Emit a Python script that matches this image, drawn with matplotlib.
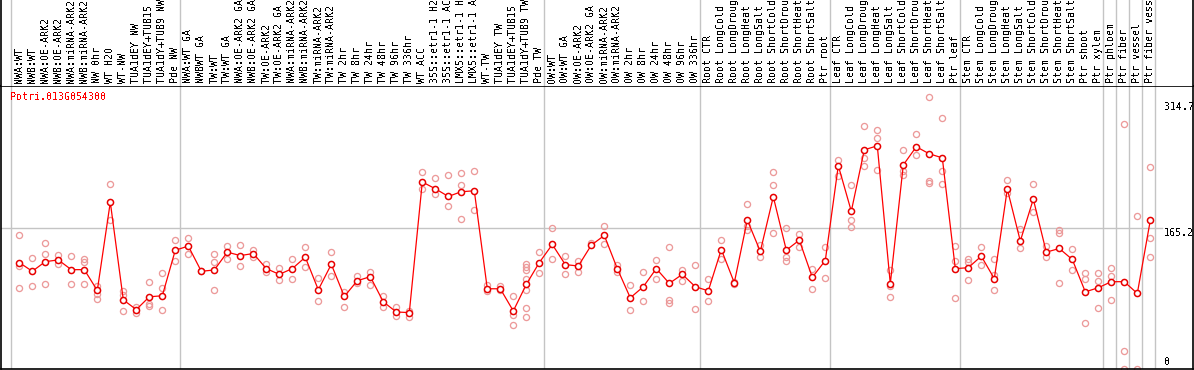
import matplotlib
matplotlib.use("Agg")
import matplotlib.pyplot as plt

plt.rcParams["text.antialiased"] = False

labels = [
    "NWA:WT", "NWB:WT", "NWA:OE-ARK2", "NWB:OE-ARK2", "NWA:miRNA-ARK2", "NWB:miRNA-ARK2",
    "NW 0hr", "WT H2O", "WT-NW", "TUA1dEY NW", "TUA1dEY+TUB15 NW", "TUA1dY+TUB9 NW", "Pde NW",
    "NWA:WT GA", "NWBWT GA", "TW:WT", "TW:WT GA", "NWA:OE-ARK2 GA", "NWB:OE-ARK2 GA",
    "TW:OE-ARK2", "TW:OE-ARK2 GA", "NWA:miRNA-ARK2 GA", "NWB:miRNA-ARK2 GA", "TW:miRNA-ARK2",
    "TW:miRNA-ARK2 GA", "TW 2hr", "TW 8hr", "TW 24hr", "TW 48hr", "TW 96hr", "TW 336hr",
    "WT ACC", "35S::etr1-1 H2O", "35S::etr1-1 ACC", "LMX5::etr1-1 H2O", "LMX5::etr1-1 ACC",
    "WT-TW", "TUA1dEY TW", "TUA1dEY+TUB15 TW", "TUA1dY+TUB9 TW", "Pde TW",
    "OW:WT", "OW:WT GA", "OW:OE-ARK2", "OW:OE-ARK2 GA", "OW:miRNA-ARK2", "OW:miRNA-ARK2 GA",
    "OW 2hr", "OW 8hr", "OW 24hr", "OW 48hr", "OW 96hr", "OW 336hr",
    "Root CTR", "Root LongCold", "Root LongDrought", "Root LongHeat", "Root LongSalt",
    "Root ShortCold", "Root ShortDrought", "Root ShortHeat", "Root ShortSalt", "Ptr root",
    "Leaf CTR", "Leaf LongCold", "Leaf LongDrought", "Leaf LongHeat", "Leaf LongSalt",
    "Leaf ShortCold", "Leaf ShortDrought", "Leaf ShortHeat", "Leaf ShortSalt", "Ptr leaf",
    "Stem CTR", "Stem LongCold", "Stem LongDrought", "Stem LongHeat", "Stem LongSalt",
    "Stem ShortCold", "Stem ShortDrought", "Stem ShortHeat", "Stem ShortSalt",
    "Ptr shoot", "Ptr xylem", "Ptr phloem", "Ptr fiber", "Ptr vessel", "Ptr fiber vessel",
]

means = [
    124.7, 114.5, 125.8, 127.8, 116.4, 116.4, 92.0, 195.5, 81.0, 69.6,
    84.6, 85.8, 139.2, 144.0, 114.5, 116.0, 136.9, 132.9, 135.3, 117.6,
    110.9, 117.6, 131.0, 92.8, 122.7, 85.0, 103.4, 108.2, 78.7, 66.8,
    66.1, 219.1, 211.2, 202.2, 207.7, 208.8, 94.0, 94.0, 68.0, 99.1,
    124.7, 145.9, 122.3, 120.7, 145.1, 156.5, 117.6, 83.4, 96.4, 117.6,
    100.3, 110.9, 96.4, 91.6, 140.0, 101.1, 174.6, 137.7, 201.8, 139.2,
    151.0, 107.4, 127.1, 238.3, 184.8, 256.8, 261.5, 99.9, 239.1, 260.4,
    252.1, 247.4, 117.6, 118.7, 132.2, 105.8, 210.8, 149.9, 199.0, 136.9,
    141.2, 128.3, 90.4, 95.2, 102.3, 102.3, 88.5, 174.2,
]

replicates = [
    [156.9, 120.7, 95.2], [129.8, 97.5], [147.5, 134.5, 99.1], [133.7, 123.5],
    [132.1, 99.9], [128.3, 125.1, 99.1], [96.8, 88.1, 82.2], [216.7, 174.2],
    [90.9, 86.9, 68.4], [72.4, 65.3], [101.5, 76.3, 73.6], [112.1, 94.4, 69.2],
    [151.4, 127.1], [153.8, 134.5], [114.5], [134.5, 125.8, 92.0],
    [144.0, 129.4], [145.1, 120.4], [139.2, 131.4], [123.1, 113.7],
    [118.0, 104.6], [128.6, 105.8], [142.8, 119.2], [107.0, 79.1],
    [136.5, 108.6], [90.4, 72.8], [109.0, 100.7], [113.7, 98.7],
    [85.4, 72.4], [72.4, 62.2], [68.4, 61.4], [231.3, 211.2],
    [223.8, 204.9], [227.3, 190.4], [229.7, 215.9, 175.4], [232.4, 186.1],
    [97.9, 91.3], [96.8, 92.0], [85.8, 63.7, 51.5],
    [123.5, 119.6, 115.6, 105.8, 92.0, 71.6, 61.0],
    [136.5, 112.9], [164.8, 129.4], [132.9, 111.7], [126.3, 114.1],
    [147.9], [167.6, 145.9], [122.3, 113.7], [97.9, 69.2],
    [113.3, 79.8], [127.4, 105.8], [142.4, 81.4, 77.5], [115.6, 103.4],
    [122.3, 70.4], [105.8, 79.8], [150.6, 128.3], [101.5, 99.5],
    [193.1, 162.8, 168.0], [145.1, 131.8], [230.9, 215.5, 158.9], [164.8, 131.8, 126.1],
    [158.1, 142.4], [117.6, 94.0], [143.2, 107.0], [245.4, 226.5],
    [215.5, 174.2, 166.0], [284.4, 247.4, 238.0], [280.4, 270.6, 233.6], [116.4, 96.8, 84.6],
    [256.8, 231.6, 227.7], [275.7, 251.3], [318.2, 219.9, 217.9], [294.6, 232.1, 216.7],
    [143.6, 126.1, 83.4], [129.4, 125.1, 104.6], [142.8, 122.3], [129.4, 110.0, 92.0],
    [221.8, 206.1], [163.6, 141.2], [216.7, 184.5], [144.3, 131.4],
    [162.8, 159.7, 101.1], [140.4, 116.4], [112.5, 105.4, 53.9], [112.1, 103.0, 71.6],
    [118.0, 109.4, 81.0], [287.5, 20.9, 0.0], [179.0, 0.0], [236.8, 153.0, 131.8],
]

group_starts = [0, 13, 41, 53, 63, 73, 84, 85, 86, 87, 88]
gene = "Potri.013G054300"
ref_values = [314.7, 165.2, 0]
ref_labels = ["314.7", "165.2", "0"]

W, H = 1194, 370
fig = plt.figure(figsize=(W / 100, H / 100), dpi=100)
FONT = "DejaVu Sans Mono"
FS = 7.2

x_left = (1 - 19.3) / 13
x_right = (1193 - 19.3) / 13
top_px = 85.5
bot_px = 369

ax = fig.add_axes([1 / W, (H - bot_px) / H, 1192 / W, (bot_px - top_px) / H])
axh = fig.add_axes([1 / W, (H - top_px) / H, 1192 / W, top_px / H])

ymax = (bot_px - top_px) / 0.8535
ax.set_xlim(x_left, x_right)
ax.set_ylim(0, ymax)
axh.set_xlim(x_left, x_right)
axh.set_ylim(0, 1)

for a in (ax, axh):
    a.set_xticks([])
    a.set_yticks([])
    for s in a.spines.values():
        s.set_color("black")
        s.set_linewidth(1.2)
axh.spines["top"].set_visible(False)
axh.spines["bottom"].set_visible(False)

grid_c = "#c4c4c4"
for b in group_starts:
    for a in (ax, axh):
        a.axvline(b - 0.65, color=grid_c, lw=1.0, zorder=1)
ax.plot([x_left, 87.9], [165.2, 165.2], color=grid_c, lw=1.0, zorder=1)

xs = list(range(len(means)))
rx, ry = [], []
for i, reps in enumerate(replicates):
    for v in reps:
        rx.append(i)
        ry.append(v)
ax.plot(rx, ry, linestyle="none", marker="o", ms=4.4, mew=0.95,
        mfc="none", mec="#ec9a9a", zorder=2, clip_on=True)
ax.plot(xs, means, color="red", lw=0.9, zorder=3)
ax.plot(xs, means, linestyle="none", marker="o", ms=4.4, mew=1.1,
        mfc="white", mec="#e80000", zorder=4)

for i, lab in enumerate(labels):
    axh.text(i, 0.03, lab, rotation=90, ha="center", va="bottom",
             fontsize=FS, family=FONT, color="black", clip_on=False)

ax.text(9 / 1192, 1 - 11.5 / (bot_px - top_px), gene, transform=ax.transAxes,
        ha="left", va="center", fontsize=FS, family=FONT, color="red")

offsets = [-6.6, -4.5, 7.0]
for v, lab, off in zip(ref_values, ref_labels, offsets):
    ax.annotate(lab, xy=((1164 - 19.3) / 13, v), xytext=(0, off * 0.72),
                textcoords="offset points", ha="left", va="center",
                fontsize=FS, family=FONT, color="black", annotation_clip=False)

fig.savefig("out.png", dpi=100)
